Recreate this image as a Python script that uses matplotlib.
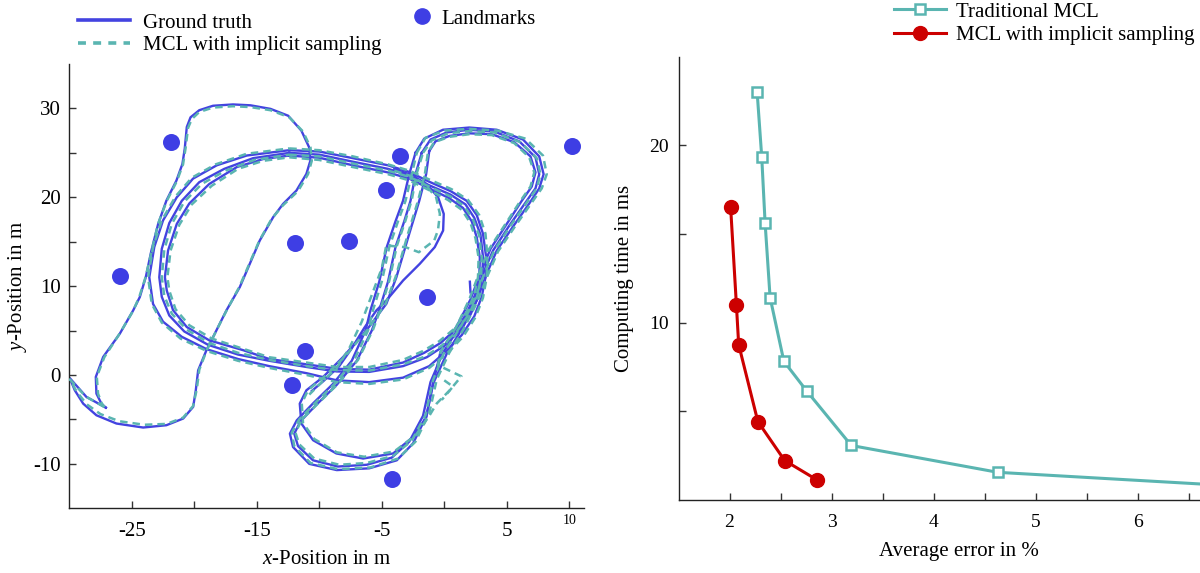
import numpy as np
import matplotlib
matplotlib.use('Agg')
import matplotlib.pyplot as plt
from matplotlib.lines import Line2D

plt.rcParams['font.family'] = ['Liberation Serif', 'DejaVu Serif']
plt.rcParams['mathtext.fontset'] = 'custom'
plt.rcParams['mathtext.rm'] = 'Liberation Serif'
plt.rcParams['mathtext.it'] = 'Liberation Serif:italic'
plt.rcParams['axes.unicode_minus'] = False

# ---------------- data: left panel (trajectories, metres) ----------------
landmark_x = [-21.84, -25.92, -11.97, -7.59, -3.57, -4.68, -1.40, -11.14, -12.22, -4.19, 10.19]
landmark_y = [26.18, 11.12, 14.87, 15.13, 24.60, 20.83, 8.76, 2.66, -1.08, -11.75, 25.81]

gt_s_loop = [(-27.08, -3.67), (-28.63, -2.47), (-29.96, -0.35), (-29.56, -1.72), (-28.89, -3.22),
             (-27.83, -4.53), (-26.23, -5.46), (-24.09, -5.91), (-22.23, -5.65), (-20.89, -4.90),
             (-20.09, -3.59), (-19.88, -1.72), (-19.69, 0.53), (-19.03, 2.78), (-18.23, 5.02),
             (-17.43, 7.27), (-16.36, 9.89), (-15.56, 12.51), (-14.76, 15.14), (-13.69, 17.76),
             (-12.89, 19.26), (-11.83, 20.75), (-11.03, 22.63), (-10.71, 24.13), (-10.81, 25.62),
             (-11.43, 27.50), (-12.49, 29.18), (-13.90, 29.95), (-15.50, 30.35), (-16.90, 30.45),
             (-18.50, 30.30), (-19.60, 29.80), (-20.30, 29.00), (-20.60, 27.90), (-20.76, 25.50),
             (-20.95, 23.75), (-21.43, 21.88), (-22.23, 19.63), (-22.89, 17.00), (-23.43, 14.01),
             (-23.88, 11.02), (-24.36, 8.77), (-24.89, 7.27), (-25.96, 4.65), (-27.29, 2.03),
             (-27.88, -0.22), (-27.83, -2.09), (-27.43, -3.22), (-27.08, -3.67)]

gt_loop_outer = [(-12.4, 25.3), (-10.0, 25.15), (-7.3, 24.4), (-4.5, 23.6), (-2.8, 22.85), (-1.2, 21.75),
                 (0.5, 20.7), (1.8, 19.6), (2.6, 18.0), (3.1, 15.9), (3.35, 13.3), (3.3, 11.0), (3.0, 8.8),
                 (2.4, 6.6), (1.4, 4.5), (0.1, 2.6), (-1.2, 1.0), (-3.3, -0.3), (-6.0, -0.8), (-8.6, -0.6),
                 (-11.0, 0.2), (-14.0, 1.0), (-16.5, 1.8), (-19.0, 2.9), (-21.0, 4.3), (-22.5, 6.0),
                 (-23.3, 8.0), (-23.6, 11.0), (-23.2, 14.4), (-22.5, 17.4), (-21.4, 20.0), (-20.1, 22.1),
                 (-18.2, 23.6), (-15.8, 24.7), (-12.4, 25.3)]
gt_loop_middle = [(-12.4, 25.0), (-10.0, 24.8), (-7.3, 24.0), (-4.5, 23.2), (-2.8, 22.45), (-1.2, 21.35),
                  (0.5, 20.3), (1.7, 19.2), (2.4, 17.7), (2.9, 15.8), (3.1, 13.3), (3.05, 11.0), (2.75, 8.9),
                  (2.1, 6.8), (1.1, 4.8), (-0.1, 3.2), (-1.4, 2.0), (-3.3, 1.0), (-6.0, 0.35), (-8.6, 0.4),
                  (-11.0, 0.9), (-14.0, 1.6), (-16.5, 2.3), (-18.9, 3.4), (-20.8, 4.9), (-22.0, 6.7),
                  (-22.6, 8.8), (-22.8, 11.0), (-22.6, 14.2), (-22.0, 17.1), (-21.0, 19.6), (-19.6, 21.7),
                  (-17.6, 23.2), (-15.3, 24.4), (-12.4, 25.0)]
gt_loop_inner = [(-12.4, 24.7), (-10.0, 24.45), (-7.3, 23.6), (-4.5, 22.8), (-2.8, 22.1), (-1.2, 21.0),
                 (0.4, 19.9), (1.5, 18.8), (2.2, 17.3), (2.6, 15.5), (2.85, 13.2), (2.8, 11.0), (2.5, 9.0),
                 (1.9, 7.0), (0.9, 5.1), (-0.3, 3.6), (-1.6, 2.5), (-3.3, 1.4), (-6.0, 0.6), (-8.6, 0.7),
                 (-11.0, 1.2), (-14.0, 1.8), (-16.1, 2.8), (-18.8, 3.9), (-20.6, 5.4), (-21.7, 7.3),
                 (-22.2, 9.5), (-22.35, 11.0), (-22.1, 14.0), (-21.4, 17.0), (-20.4, 19.3), (-18.8, 21.5),
                 (-16.6, 23.4), (-14.5, 24.3), (-12.4, 24.7)]
gt_pill_outer = [(-2.3, 25.0), (-1.6, 26.6), (-0.1, 27.6), (2.0, 27.85), (4.2, 27.6), (6.3, 26.5), (7.6, 24.6),
                 (7.95, 22.6), (7.6, 21.0), (6.8, 19.3), (5.5, 16.7), (4.2, 14.0), (3.4, 11.4), (2.6, 8.4),
                 (1.5, 5.4), (0.2, 2.4), (-0.9, -1.0), (-1.45, -4.7), (-2.5, -7.7), (-3.8, -9.6),
                 (-6.0, -10.5), (-8.6, -10.7), (-10.8, -10.0), (-12.1, -8.1), (-12.35, -6.6), (-11.8, -5.1),
                 (-10.5, -3.2), (-8.9, -1.0), (-7.4, 1.6), (-6.3, 5.0), (-5.9, 7.3), (-5.2, 10.5),
                 (-4.6, 14.4), (-3.9, 17.3), (-3.3, 19.6), (-2.8, 22.6), (-2.3, 25.0)]
gt_pill_middle = [(-1.8, 25.0), (-1.1, 26.5), (0.2, 27.3), (2.0, 27.6), (4.0, 27.4), (6.0, 26.3), (7.3, 24.5),
                  (7.6, 22.6), (7.3, 21.0), (6.5, 19.4), (5.2, 16.8), (3.9, 14.0), (3.1, 11.4), (2.3, 8.4),
                  (1.2, 5.4), (-0.1, 2.5), (-1.1, -0.8), (-1.7, -4.6), (-2.8, -7.5), (-4.2, -9.3),
                  (-6.2, -10.1), (-8.5, -10.3), (-10.5, -9.6), (-11.7, -8.0), (-12.0, -6.6), (-11.5, -5.2),
                  (-10.2, -3.3), (-8.6, -1.1), (-7.0, 1.6), (-5.8, 5.0), (-5.2, 7.3), (-4.5, 10.5),
                  (-3.9, 14.4), (-3.2, 17.3), (-2.7, 19.6), (-2.3, 22.6), (-1.8, 25.0)]
gt_pill_inner = [(-1.2, 25.2), (-0.7, 26.3), (0.4, 26.9), (2.0, 27.2), (3.8, 27.1), (5.6, 26.2), (6.9, 24.6),
                 (7.3, 22.8), (7.0, 21.2), (6.2, 19.6), (5.0, 17.0), (3.7, 14.2), (2.9, 11.5), (2.1, 8.5),
                 (1.0, 5.5), (-0.3, 2.6), (-0.9, -1.0), (-1.43, -4.72), (-2.49, -6.96), (-4.09, -8.83),
                 (-6.49, -9.40), (-8.63, -8.83), (-10.49, -7.34), (-11.43, -5.46), (-11.56, -3.22),
                 (-11.03, -1.72), (-9.69, -0.22), (-8.09, 2.03), (-6.23, 5.02), (-4.63, 8.02),
                 (-3.83, 11.0), (-2.8, 15.9), (-2.0, 19.6), (-1.45, 22.6), (-1.2, 25.2)]
gt_teardrop = [(-4.0, 23.2), (-2.6, 22.5), (-1.43, 21.5), (-0.49, 20.0), (-0.04, 18.13), (-0.09, 16.26),
               (-0.76, 14.39), (-1.96, 12.51), (-3.29, 10.64), (-4.63, 8.39), (-5.43, 7.27), (-6.4, 5.3),
               (-7.4, 3.0), (-8.4, 1.0), (-9.6, -0.6), (-10.6, -1.8)]
gt_tick_mark = [(2.05, 10.5), (2.1, 9.3)]

mcl_s_loop = [(-27.2, -3.6), (-28.7, -2.4), (-29.95, -0.5), (-29.4, -1.9), (-28.6, -3.3), (-27.5, -4.4),
              (-26.0, -5.2), (-24.0, -5.6), (-22.2, -5.5), (-20.9, -4.8), (-20.1, -3.5), (-19.8, -1.6),
              (-19.6, 0.6), (-19.0, 2.8), (-18.2, 5.1), (-17.4, 7.3), (-16.4, 9.9), (-15.6, 12.5),
              (-14.8, 15.1), (-13.8, 17.6), (-12.9, 19.1), (-11.7, 20.7), (-10.9, 22.6), (-10.6, 24.1),
              (-10.7, 25.6), (-11.3, 27.4), (-12.4, 29.0), (-13.9, 29.8), (-15.5, 30.15), (-16.9, 30.25),
              (-18.5, 30.1), (-19.6, 29.6), (-20.2, 28.8), (-20.5, 27.8), (-20.7, 25.5), (-20.9, 23.7),
              (-21.4, 21.8), (-22.2, 19.6), (-22.9, 17.0), (-23.4, 14.0), (-23.9, 11.0), (-24.4, 8.8),
              (-24.9, 7.2), (-26.0, 4.6), (-27.2, 2.0), (-27.8, -0.2), (-27.7, -2.1), (-27.4, -3.2),
              (-27.2, -3.6)]
mcl_loop_outer = [(-12.4, 25.5), (-10.0, 25.3), (-7.3, 24.6), (-4.5, 23.7), (-2.8, 23.0), (-1.2, 22.0),
                  (0.6, 20.9), (1.9, 19.7), (2.8, 18.0), (3.3, 15.9), (3.45, 13.3), (3.4, 11.0), (3.1, 8.7),
                  (2.5, 6.5), (1.5, 4.3), (0.2, 2.4), (-1.2, 0.8), (-3.3, -0.5), (-6.0, -1.0), (-8.6, -0.8),
                  (-11.0, 0.0), (-14.0, 0.8), (-16.5, 1.6), (-19.0, 2.7), (-21.1, 4.1), (-22.6, 5.9),
                  (-23.4, 8.0), (-23.7, 11.0), (-23.3, 14.4), (-22.6, 17.4), (-21.5, 20.1), (-20.2, 22.2),
                  (-18.3, 23.7), (-15.8, 24.9), (-12.4, 25.5)]
mcl_loop_middle = [(-12.4, 24.8), (-10.0, 24.6), (-7.3, 23.8), (-4.5, 23.0), (-2.8, 22.3), (-1.2, 21.2),
                   (0.5, 20.1), (1.6, 19.0), (2.3, 17.5), (2.8, 15.7), (3.0, 13.3), (2.95, 11.0), (2.65, 8.9),
                   (2.0, 6.9), (1.0, 4.9), (-0.2, 3.3), (-1.5, 2.1), (-3.3, 1.2), (-6.0, 0.5), (-8.6, 0.55),
                   (-11.0, 1.0), (-14.0, 1.7), (-16.5, 2.5), (-18.8, 3.6), (-20.6, 5.1), (-21.8, 6.9),
                   (-22.4, 8.9), (-22.6, 11.0), (-22.4, 14.1), (-21.8, 17.0), (-20.8, 19.5), (-19.4, 21.5),
                   (-17.5, 23.0), (-15.2, 24.2), (-12.4, 24.8)]
mcl_loop_inner = [(-12.4, 24.5), (-10.0, 24.2), (-7.3, 23.4), (-4.5, 22.6), (-2.8, 21.9), (-1.2, 20.8),
                  (0.3, 19.7), (1.4, 18.6), (2.1, 17.1), (2.5, 15.4), (2.75, 13.2), (2.7, 11.0), (2.4, 9.0),
                  (1.8, 7.1), (0.8, 5.2), (-0.4, 3.8), (-1.7, 2.7), (-3.3, 1.7), (-6.0, 0.9), (-8.6, 0.9),
                  (-11.0, 1.4), (-14.0, 2.0), (-16.2, 3.0), (-18.6, 4.1), (-20.4, 5.6), (-21.5, 7.4),
                  (-22.0, 9.5), (-22.15, 11.0), (-21.9, 14.0), (-21.2, 16.9), (-20.2, 19.2), (-18.6, 21.3),
                  (-16.5, 23.2), (-14.5, 24.1), (-12.4, 24.5)]
mcl_pill_outer = [(-2.2, 25.0), (-1.5, 26.7), (0.0, 27.5), (2.0, 27.7), (4.3, 27.5), (6.5, 26.6), (7.9, 24.7),
                  (8.2, 22.6), (7.8, 21.0), (6.9, 19.2), (5.6, 16.6), (4.3, 13.9), (3.5, 11.3), (2.7, 8.4),
                  (1.6, 5.3), (0.4, 2.5), (-0.6, -0.5), (-1.2, -4.3), (-2.3, -7.5), (-3.7, -9.4),
                  (-5.9, -10.4), (-8.5, -10.6), (-10.7, -9.9), (-12.0, -8.0), (-12.2, -6.5), (-11.6, -5.0),
                  (-10.3, -3.1), (-8.7, -0.9), (-7.2, 1.7), (-6.1, 5.0), (-5.7, 7.3), (-5.0, 10.5),
                  (-4.4, 14.4), (-3.7, 17.3), (-3.1, 19.6), (-2.6, 22.6), (-2.2, 25.0)]
mcl_pill_middle = [(-1.7, 25.0), (-1.0, 26.4), (0.3, 27.2), (2.0, 27.45), (4.0, 27.3), (6.1, 26.2),
                   (7.4, 24.4), (7.7, 22.6), (7.4, 21.0), (6.6, 19.4), (5.3, 16.8), (4.0, 14.0), (3.2, 11.4),
                   (2.4, 8.4), (1.3, 5.4), (0.0, 2.6), (-0.9, -0.6), (-1.5, -4.5), (-2.6, -7.4), (-4.1, -9.1),
                   (-6.2, -9.9), (-8.4, -10.1), (-10.4, -9.4), (-11.6, -7.8), (-11.9, -6.5), (-11.4, -5.0),
                   (-10.1, -3.2), (-8.5, -1.0), (-6.9, 1.7), (-5.7, 5.1), (-5.1, 7.4), (-4.4, 10.6),
                   (-3.8, 14.5), (-3.1, 17.4), (-2.6, 19.7), (-2.2, 22.7), (-1.7, 25.0)]
mcl_pill_inner = [(1.0, 5.5), (-0.3, 2.6), (-0.5, 1.1), (1.37, -0.15), (0.44, -1.72), (-0.6, -3.2),
                  (-1.2, -4.6), (-2.3, -6.8), (-4.0, -8.6), (-6.4, -9.2), (-8.6, -8.7), (-10.4, -7.2),
                  (-11.3, -5.4), (-11.4, -3.2), (-10.9, -1.7), (-9.6, -0.2), (-8.0, 2.0), (-6.2, 5.0),
                  (-4.7, 8.0), (-3.9, 11.0), (-2.9, 15.9), (-2.1, 19.6), (-1.55, 22.6), (-1.3, 25.1),
                  (-0.8, 26.2), (0.4, 26.8), (2.0, 27.1), (3.8, 27.0), (5.6, 26.1), (6.8, 24.5), (7.2, 22.8),
                  (6.9, 21.2), (6.1, 19.6), (4.9, 17.0), (3.6, 14.2), (2.8, 11.5), (2.0, 8.5), (1.0, 5.5)]
mcl_detour = [(0.0, -0.6), (0.7, -1.3), (-0.2, -2.8)]
mcl_teardrop = [(-4.0, 23.0), (-2.7, 22.4), (-1.57, 21.5), (-0.65, 20.0), (-0.35, 18.13), (-0.5, 16.3),
                (-0.8, 15.14), (-2.03, 13.82), (-3.1, 14.39), (-4.64, 14.57), (-5.0, 12.0), (-5.8, 9.0),
                (-6.6, 6.0), (-7.6, 3.0), (-8.6, 0.8), (-9.8, -0.8), (-10.8, -2.2)]

gt_paths = [gt_s_loop, gt_loop_outer, gt_loop_middle, gt_loop_inner, gt_pill_outer,
            gt_pill_middle, gt_pill_inner, gt_teardrop, gt_tick_mark]
mcl_paths = [mcl_s_loop, mcl_loop_outer, mcl_loop_middle, mcl_loop_inner, mcl_pill_outer,
             mcl_pill_middle, mcl_pill_inner, mcl_detour, mcl_teardrop]

# ---------------- data: right panel ----------------
trad_error = [2.271, 2.316, 2.349, 2.398, 2.533, 2.755, 3.194, 4.631, 7.0]
trad_time = [23.0, 19.34, 15.62, 11.41, 7.81, 6.15, 3.06, 1.545, 0.76]
impl_error = [2.011, 2.068, 2.090, 2.278, 2.541, 2.860]
impl_time = [16.51, 10.96, 8.755, 4.41, 2.21, 1.11]

BLUE = '#4343e0'
TEAL = '#5ab5b1'
RED = '#cc0000'
LMC = '#3e3ee4'
DASH = (0, (3.0, 2.0))

fig = plt.figure(figsize=(12, 5.73), dpi=100)

# ---------- left panel ----------
ax1 = fig.add_axes([69.3 / 1200, 1 - 508.3 / 573, (583.6 - 69.3) / 1200, (508.3 - 64) / 573])
for pts in gt_paths:
    a = np.array(pts)
    ax1.plot(a[:, 0], a[:, 1], color=BLUE, lw=1.7, solid_joinstyle='round', zorder=2)
for pts in mcl_paths:
    a = np.array(pts)
    ax1.plot(a[:, 0], a[:, 1], color=TEAL, lw=1.8, linestyle=DASH, zorder=3)
ax1.scatter(landmark_x, landmark_y, s=150, color=LMC, linewidths=0, zorder=4)
ax1.set_xlim(-30, 11.15)
ax1.set_ylim(-15, 35)
for s in ['top', 'right']:
    ax1.spines[s].set_visible(False)
for s in ['left', 'bottom']:
    ax1.spines[s].set_linewidth(1.0)
    ax1.spines[s].set_color('#222222')
ax1.set_xticks([-25, -15, -5, 5])
ax1.set_xticks([-20, -10, 0, 10], minor=True)
ax1.set_yticks([-10, 0, 10, 20, 30])
ax1.set_yticks([-5, 5, 15, 25], minor=True)
ax1.tick_params(which='both', direction='in', length=5, width=1, color='#333333')
ax1.tick_params(axis='x', labelsize=15, pad=10)
ax1.tick_params(axis='y', labelsize=15, pad=6)
ax1.annotate('10', xy=(10, 0), xycoords=('data', 'axes fraction'), xytext=(0, -9),
             textcoords='offset points', ha='center', va='center', fontsize=10)
ax1.set_xlabel('$x$-Position in m', fontsize=15, labelpad=6)
ax1.set_ylabel('$y$-Position in m', fontsize=15, va='center')
ax1.yaxis.set_label_coords((18 - 69.3) / 514.3, 0.5)

h_gt = Line2D([], [], color=BLUE, lw=2.6)
h_mcl = Line2D([], [], color=TEAL, lw=2.6, linestyle=(0, (2.2, 2.0)))
h_lm = Line2D([], [], color=LMC, marker='o', markersize=11, linestyle='none')
fig.legend([h_gt, h_mcl], ['Ground truth', 'MCL with implicit sampling'],
           loc='upper left', bbox_to_anchor=(78 / 1200, 1 - 13 / 573), frameon=False,
           fontsize=15, handlelength=2.5, handletextpad=0.6, labelspacing=0.15,
           borderpad=0, borderaxespad=0)
fig.legend([h_lm], ['Landmarks'], loc='upper left',
           bbox_to_anchor=(412 / 1200, 1 - 9 / 573), frameon=False, fontsize=15,
           handlelength=1.0, handletextpad=0.4, borderpad=0, borderaxespad=0)

# ---------- right panel ----------
ax2 = fig.add_axes([678.5 / 1200, 1 - 499.7 / 573, 561 / 1200, (499.7 - 56.7) / 573])
ax2.plot(trad_error, trad_time, color=TEAL, lw=2.2, marker='s', markersize=7,
         markerfacecolor='white', markeredgecolor=TEAL, markeredgewidth=1.8,
         label='Traditional MCL')
ax2.plot(impl_error, impl_time, color=RED, lw=2.2, marker='o', markersize=10,
         markerfacecolor=RED, markeredgecolor=RED, label='MCL with implicit sampling')
ax2.set_xlim(1.5, 7.0)
ax2.set_ylim(0, 25)
for s in ['top', 'right']:
    ax2.spines[s].set_visible(False)
for s in ['left', 'bottom']:
    ax2.spines[s].set_linewidth(1.0)
    ax2.spines[s].set_color('#222222')
ax2.set_xticks([2, 3, 4, 5, 6])
ax2.set_xticks([2.5, 3.5, 4.5, 5.5, 6.5], minor=True)
ax2.set_yticks([10, 20])
ax2.set_yticks([5, 15], minor=True)
ax2.tick_params(which='both', direction='in', length=5, width=1, color='#333333')
ax2.tick_params(axis='x', labelsize=14, pad=10)
ax2.tick_params(axis='y', labelsize=14, pad=7)
ax2.set_xlabel('Average error in %', fontsize=15, labelpad=8)
ax2.set_ylabel('Computing time in ms', fontsize=15, va='center')
ax2.yaxis.set_label_coords((624 - 678.5) / 561, 0.5)

fig.legend(handles=ax2.get_lines(), loc='upper left', bbox_to_anchor=(894 / 1200, 1 - 2 / 573),
           frameon=False, fontsize=15, handlelength=2.5, handletextpad=0.5, labelspacing=0.2,
           borderpad=0, borderaxespad=0)

fig.savefig('out.png', dpi=100)
